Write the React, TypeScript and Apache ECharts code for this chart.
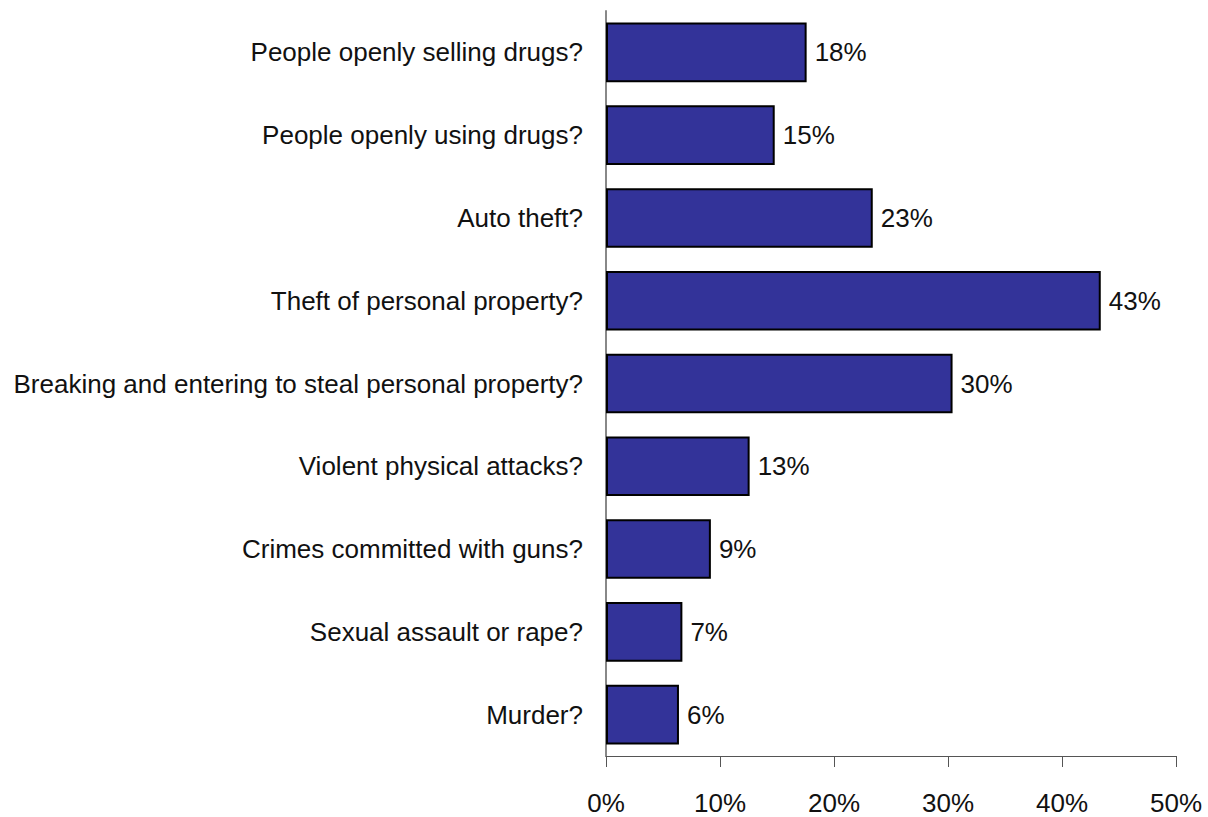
import React, { useEffect, useRef } from "react";
import * as echarts from "echarts";

const categories = [
  "People openly selling drugs?",
  "People openly using drugs?",
  "Auto theft?",
  "Theft of personal property?",
  "Breaking and entering to steal personal property?",
  "Violent physical attacks?",
  "Crimes committed with guns?",
  "Sexual assault or rape?",
  "Murder?",
];
const values = [17.6, 14.8, 23.4, 43.4, 30.4, 12.6, 9.2, 6.7, 6.4];
const xTicks = [0, 10, 20, 30, 40, 50];

const FONT = "'Liberation Sans Narrow', 'Arial Narrow', 'Liberation Sans', Arial, sans-serif";

export default function App() {
  const ref = useRef<HTMLDivElement>(null);
  useEffect(() => {
    if (!ref.current) return;
    const chart = echarts.init(ref.current, undefined, { renderer: "svg" });
    chart.setOption({
      animation: false,
      backgroundColor: "#ffffff",
      grid: {
        left: 606,
        right: 32,
        top: 11,
        bottom: 61,
        containLabel: false,
        outerBoundsMode: "none",
      },
      xAxis: {
        type: "value",
        min: xTicks[0],
        max: xTicks[xTicks.length - 1],
        interval: 10,
        axisLine: { show: true, lineStyle: { color: "#555555", width: 1 } },
        axisTick: { show: true, length: 11, lineStyle: { color: "#555555" } },
        splitLine: { show: false },
        axisLabel: {
          margin: 34,
          color: "#111111",
          fontSize: 26,
          fontFamily: FONT,
          formatter: (v: number) => `${v}%`,
        },
      },
      yAxis: {
        type: "category",
        data: categories,
        inverse: true,
        axisLine: { show: true, lineStyle: { color: "#888888", width: 2 } },
        axisTick: { show: false },
        axisLabel: {
          margin: 23,
          color: "#111111",
          fontSize: 26,
          fontFamily: FONT,
        },
      },
      series: [
        {
          type: "bar",
          data: values,
          barCategoryGap: "28%",
          itemStyle: { color: "#333399", borderColor: "#000000", borderWidth: 2 },
          label: {
            show: true,
            position: "right",
            distance: 8,
            color: "#111111",
            fontSize: 26,
            fontFamily: FONT,
            formatter: (p: any) => `${Math.round(p.value)}%`,
          },
        },
      ],
    });
    return () => chart.dispose();
  }, []);
  return <div ref={ref} style={{ width: 1208, height: 817, position: "absolute", left: 0, top: 0 }} />;
}
